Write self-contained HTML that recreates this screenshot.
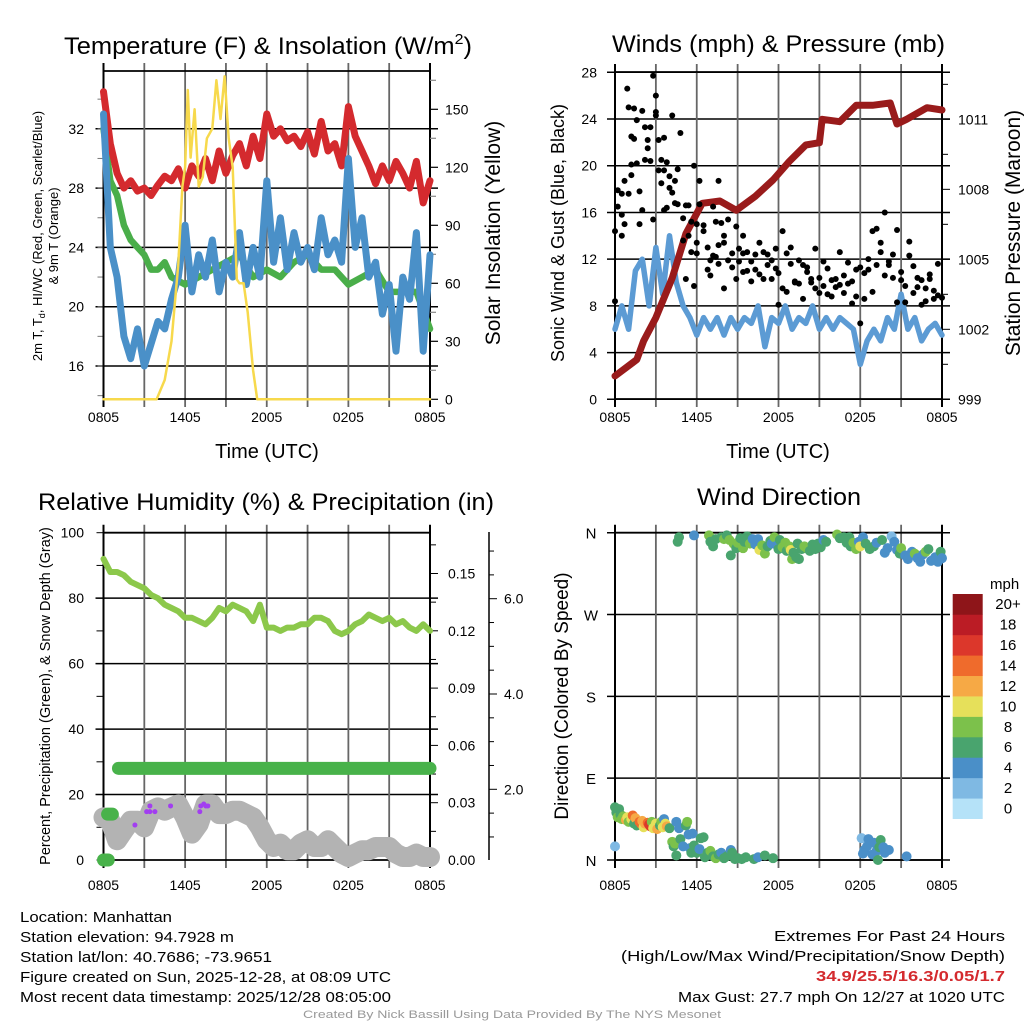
<!DOCTYPE html>
<html><head><meta charset="utf-8"><style>
html,body{margin:0;padding:0;background:#fff}
svg{display:block;font-family:"Liberation Sans",Arial,sans-serif}
</style></head><body>
<svg id="fig" width="1024" height="1024" viewBox="0 0 1024 1024" xmlns="http://www.w3.org/2000/svg">
<rect width="1024" height="1024" fill="#fff"/>
<g id="p1"></g>
<g id="p2"></g>
<g id="p3"></g>
<g id="p4"></g>
<g id="txt">
<text x="64" y="54" font-size="24" textLength="408" lengthAdjust="spacingAndGlyphs">Temperature (F) &amp; Insolation (W/m<tspan font-size="15" dy="-10">2</tspan><tspan dy="10">)</tspan></text>
<text x="612" y="52" font-size="24" textLength="333" lengthAdjust="spacingAndGlyphs">Winds (mph) &amp; Pressure (mb)</text>
<text x="38" y="510" font-size="24" textLength="456" lengthAdjust="spacingAndGlyphs">Relative Humidity (%) &amp; Precipitation (in)</text>
<text x="697" y="505" font-size="24" textLength="164" lengthAdjust="spacingAndGlyphs">Wind Direction</text>
<text x="20" y="922" font-size="15" textLength="152" lengthAdjust="spacingAndGlyphs">Location: Manhattan</text>
<text x="20" y="942" font-size="15" textLength="214" lengthAdjust="spacingAndGlyphs">Station elevation: 94.7928 m</text>
<text x="20" y="962" font-size="15" textLength="252" lengthAdjust="spacingAndGlyphs">Station lat/lon: 40.7686; -73.9651</text>
<text x="20" y="982" font-size="15" textLength="371" lengthAdjust="spacingAndGlyphs">Figure created on Sun, 2025-12-28, at 08:09 UTC</text>
<text x="20" y="1002" font-size="15" textLength="371" lengthAdjust="spacingAndGlyphs">Most recent data timestamp: 2025/12/28 08:05:00</text>
<text x="774" y="941" font-size="15" textLength="231" lengthAdjust="spacingAndGlyphs">Extremes For Past 24 Hours</text>
<text x="621" y="961" font-size="15" textLength="384" lengthAdjust="spacingAndGlyphs">(High/Low/Max Wind/Precipitation/Snow Depth)</text>
<text x="816" y="981" font-size="15" font-weight="bold" fill="#d42a2e" textLength="189" lengthAdjust="spacingAndGlyphs">34.9/25.5/16.3/0.05/1.7</text>
<text x="678" y="1002" font-size="15" textLength="327" lengthAdjust="spacingAndGlyphs">Max Gust: 27.7 mph On 12/27 at 1020 UTC</text>
<text x="303" y="1018" font-size="11" fill="#999" textLength="418" lengthAdjust="spacingAndGlyphs">Created By Nick Bassill Using Data Provided By The NYS Mesonet</text>
</g>
</svg>
<script>
// ---------- DATA ----------
const xTickLabels = ["0805","1405","2005","0205","0805"];
const halfHours = [0,0.5,1,1.5,2,2.5,3,3.5,4,4.5,5,5.5,6,6.5,7,7.5,8,8.5,9,9.5,10,10.5,11,11.5,12,12.5,13,13.5,14,14.5,15,15.5,16,16.5,17,17.5,18,18.5,19,19.5,20,20.5,21,21.5,22,22.5,23,23.5,24];
const tempRed = [34.5,31,29,28,28.5,27.8,28,27.5,28.2,28.8,28.5,29.3,28,29.5,28.8,30,28.5,30.5,29,30.2,31,29.5,31.5,30,33,31.5,32,31.2,31.5,30.8,31.8,30.3,32.5,30.5,31,29.5,33.5,31.5,30.5,29.5,28.3,29.5,28.5,29.8,29,28,29.8,27,28.5];
const tempBlue = [33,24,22,18,16.5,18.5,16,17.5,19,18.5,20.5,22,25.5,21,23.5,22,24.5,21,23,22,25,21.5,24,22,28.5,23,26,22.5,25,23,24,22.5,26,23.5,24.5,23,30,24,26,22,23,19.5,21.5,17,22,20.5,25,17,23.5];
const dewHours = [0,0.5,1,1.5,2,2.5,3,3.5,4,4.5,5,6,7,8,9,10,11,12,13,14,15,16,17,18,19,20,21,22,23,24];
const tempGreen = [32,28.5,27.5,25.5,24.5,24,23.5,22.5,22.5,23,22,21.5,22,22.5,23,23.5,22,22.5,22,23,23.5,22.5,22.5,21.5,22,22.5,21,21,21,18.5];
const solarHours = [0,3.9,4.5,5,5.5,5.8,6,6.2,6.4,6.7,7,7.3,7.6,8,8.3,8.6,8.9,9.2,9.5,9.8,10,10.3,10.6,11,11.3,24];
const solarValues = [0,0,10,30,70,110,120,160,125,150,110,115,135,140,165,145,167,135,120,62,60,60,45,15,0,0];
const yTicksTemp = [16,20,24,28,32];
const yTicksSolar = [0,30,60,90,120,150];

const windSpeed = [6,8,6,11,12,8,13,9,14,10,8,7,5.5,7,6,7,5.5,7,6,7,6.5,8,4.5,7,6.5,8,6,7,6.5,8,6,7,6,7,6.5,6,3,5,6,5,7,6,9,6,7,5,6,6.5,5.5];
const pressHours = [0,1.6,2.1,3.0,4.2,5.2,6.4,7.7,8.9,10.3,11.6,12.8,14.0,15.0,15.2,16.5,17.7,18.9,20.2,20.7,21.4,22.9,24];
const pressValues = [1000,1000.7,1001.5,1002.5,1004.2,1006.1,1007.4,1007.5,1007.1,1007.7,1008.4,1009.2,1009.9,1010,1011,1010.9,1011.6,1011.6,1011.7,1010.8,1011,1011.5,1011.4];
const gustTimes = [0,0,0.2,0.2,0.5,0.5,0.5,0.7,0.7,0.9,1,1,1.2,1.2,1.2,1.4,1.4,1.6,1.6,1.8,1.8,2,2,2.2,2.2,2.4,2.4,2.6,2.6,2.8,2.8,3,3,3,3.2,3.2,3.4,3.4,3.6,3.6,3.6,3.8,3.8,4,4,4.2,4.2,4.4,4.4,4.6,4.6,4.8,5,5,5.2,5.2,5.4,5.4,5.6,5.6,5.8,5.8,6,6,6,6.2,6.2,6.5,6.5,6.8,6.8,7,7,7.2,7.2,7.4,7.4,7.6,7.6,7.6,7.8,8,8,8,8.3,8.3,8.6,8.6,8.9,8.9,9.1,9.1,9.4,9.4,9.4,9.7,9.7,10,10,10.3,10.3,10.6,10.6,10.9,10.9,11.2,11.2,11.5,11.5,11.8,11.8,12,12,12.3,12.3,12.6,12.6,12.9,12.9,13.2,13.2,13.5,13.5,13.8,13.8,14.1,14.1,14.4,14.4,14.7,14.7,15,15,15.3,15.3,15.6,15.6,15.9,15.9,16.2,16.2,16.5,16.5,16.8,16.8,17.1,17.1,17.4,17.4,17.7,17.7,18,18,18.3,18.3,18.6,18.6,18.9,18.9,19.2,19.2,19.5,19.5,19.8,19.8,20.1,20.1,20.4,20.4,20.7,20.7,21,21,21.3,21.3,21.6,21.6,21.9,21.9,22.2,22.2,22.5,22.5,22.8,22.8,23.1,23.1,23.4,23.4,23.7,23.7,24];
const gustValues = [14.4,8.4,16.5,17.9,17.6,15.8,14,15,18.7,26.6,25,17.6,19.2,20.1,22.5,24.9,22.3,20.2,23.9,15,17.8,16.2,24.7,23.3,20.5,21.5,22.2,23.3,20.4,27.7,15.4,26,24.6,24.3,22.2,19.6,20.5,18.5,19.6,22.4,16.2,20.3,16.4,19.1,18.1,24.3,17.7,18.7,16.8,19.7,16.7,22.8,13.6,15.5,10.3,16.6,14,16.6,15.2,12.6,9.7,20,15,12.5,13.4,18.7,16.7,14.4,14.9,13,11.1,10.6,11.9,12.3,16.5,15.2,12.2,11.6,18.7,13.2,15.1,14,13.4,9.5,15.4,11.9,11.3,12.5,14.8,10.3,12.9,11.8,12.5,10.9,14,11,12.6,10.1,11.8,12.4,11.1,13.4,10.7,12.6,10.3,12.4,11.5,10.3,11.9,12.9,11.2,8.1,10.8,14.4,9.5,12.5,9.2,13,11.6,10,10.1,11.9,9.9,8.6,11.5,10.9,11.3,10.3,10,12.9,9.5,10.4,9.1,11.8,9.7,11.2,9,10.2,8.8,10.3,9.6,12.6,9.8,9.1,10.6,11.7,9.9,8.2,10.1,11.1,8.8,6.5,11.3,10.8,8.6,12,11.1,14.4,9.2,14.6,11.5,12.6,13.4,16,10.6,11.8,11.5,10.4,12.4,14.5,8.3,10.9,10.2,9.7,8.3,13.5,12.3,11.4,9.1,10.4,9.6,8.1,10.2,9.5,8.4,10.7,10.3,9.3,8.6,11.6,8.9,8.7];
const yTicksWind = [0,4,8,12,16,20,24,28];
const yTicksPress = [999,1002,1005,1008,1011];

const rhValues = [92,88,88,87,85,84,83,81,80,78,77,76,74,74,73,72,74,77,76,78,77,76,73,78,71,71,70,71,71,72,72,74,74,73,70,69,70,72,73,75,74,73,74,72,73,71,70,72,70];
const snowDepth = [1.41,1.34,0.93,1.14,1.34,1.34,1.2,1.55,1.62,1.55,1.62,1.68,1.41,1.07,1.27,1.68,1.68,1.48,1.48,1.55,1.55,1.48,1.41,1.2,0.93,0.79,0.86,0.72,0.72,0.86,0.93,0.79,0.79,0.93,0.79,0.65,0.58,0.65,0.72,0.72,0.79,0.79,0.79,0.65,0.58,0.58,0.65,0.58,0.58];
const precipStart = [0,0.3,1.1];
const precipEnd = [0.35,0.65,24];
const precipValues = [0,0.024,0.048];
const purpleTimes = [2.31,3.41,3.17,3.41,3.78,4.93,7.08,7.15,7.37,7.52,7.67];
const purpleValues = [0.0183,0.0283,0.0253,0.0253,0.0253,0.0283,0.0253,0.0283,0.0293,0.0283,0.0283];
const yTicksRH = [0,20,40,60,80,100];
const yTicksPrecip = [0,0.03,0.06,0.09,0.12,0.15];
const precipTickLabels = ["0.00","0.03","0.06","0.09","0.12","0.15"];
const yTicksSnow = [2,4,6];

const dirTimes = [0,0.1,0.2,0.3,0.4,0.5,0.6,0.8,0.9,1,1.2,1.3,1.4,1.5,1.6,1.8,1.9,2,2.1,2.2,2.4,2.5,2.6,2.7,2.8,3,3.1,3.3,3.4,3.5,3.6,3.7,3.8,4,4.2,4.3,4.4,4.5,4.5,4.7,4.8,5,5.2,5.3,5.4,5.5,5.6,5.7,5.8,6,6.2,6.3,6.5,6.6,6.8,7,7.2,7.4,7.6,7.8,8,8.2,8.5,8.6,8.8,9,9.3,9.6,10.2,10.5,11,11.6,0,18.1,18.3,18.5,18.2,18.6,18.9,19,19.2,19.4,19.5,19.7,19.8,19.3,20.1,21.4,
4.6,4.7,5.8,6.9,7,7.2,7.4,7.8,8,8.2,8.4,8.5,8.7,8.9,9,9.2,9.4,9.5,9.7,9.9,10.1,10.3,10.5,10.6,10.8,11,11.2,11.4,11.5,11.7,11.9,12,12.1,12.3,12.5,12.6,12.8,12.9,13,13.1,13.3,13.4,13.5,13.7,13.9,14.1,14.3,14.5,14.7,14.9,15.1,15.3,15.5,16.3,16.5,16.8,17,17.2,17.3,17.5,17.7,17.9,18,18.2,18.4,18.7,19,19.2,19.6,19.8,20,20.3,20.5,20.7,20.9,21,21.3,21.5,21.8,22,22.2,22.4,22.6,22.8,23,23.2,23.5,23.7,23.9,24];
const dirValues = [58,52,47,56,50,45,48,44,47,42,45,49,40,46,38,42,40,43,36,40,41,39,37,42,35,40,34,38,42,36,45,40,37,35,20,15,18,5,42,35,23,15,38,42,28,13,8,29,16,8,12,24,25,3,8,10,4,2,6,8,2,4,11,8,1,2,1,3,1,3,5,2,15,24,11,15,7,23,6,19,10,14,22,14,8,0,11,4,
350,355,357,357,350,345,353,355,353,357,352,335,348,343,349,354,343,350,356,348,353,347,353,341,346,337,345,351,348,355,346,342,352,344,349,340,345,341,331,338,333,348,331,342,345,343,340,347,342,348,344,352,350,358,354,355,349,355,345,349,342,350,345,355,348,342,345,349,352,338,343,356,350,341,337,343,335,331,339,337,332,328,336,339,342,329,333,328,339,332];
const dirSpeeds = [6,7,8,6,7,8,9,12,10,8,11,15,7,12,6,14,15,13,10,12,14,16,17,9,10,11,12,7,8,10,4,10,12,6,8,7,8,7,4,5,6,5,6,8,4,4,6,4,6,6,5,6,6,7,6,8,7,8,6,4,7,6,4,6,6,7,6,6,6,4,6,6,3,2,4,4,4,4,4,4,4,6,6,4,4,6,4,4,
6,6,4,8,6,6,7,6,8,6,8,6,8,7,8,6,8,6,6,8,4,4,4,10,8,8,6,6,4,8,4,6,6,8,8,6,8,10,8,6,6,6,6,6,8,8,6,6,6,6,6,4,6,8,6,6,6,6,6,8,8,4,10,4,6,6,6,4,6,4,4,3,4,4,6,8,4,4,4,8,4,4,4,8,6,4,4,4,6,4];
const dirTicks = [0,90,180,270,360];
const dirTickLabels = ["N","E","S","W","N"];
const speedBins = ["0","2","4","6","8","10","12","14","16","18","20+"];
const speedColors = ["#b5e2f8","#7fb9e3","#4a8fc8","#49a46e","#7cc14b","#e6e05a","#f6a945","#ef6b2c","#dc372b","#bb1c25","#8e1519"];

// ---------- HELPERS ----------
const NS="http://www.w3.org/2000/svg";
function mk(parent,tag,attrs){const e=document.createElementNS(NS,tag);for(const k in attrs)e.setAttribute(k,attrs[k]);parent.appendChild(e);return e;}
function txt(parent,x,y,s,size,anchor,extra){const t=mk(parent,"text",Object.assign({x:x,y:y,"font-size":size,"text-anchor":anchor||"start"},extra||{}));t.textContent=s;return t;}

function frame(g,L,R,T,B){
  for(let i=0;i<=8;i++){const x=L+(R-L)*i/8;
    const ln=mk(g,"line",{x1:x,y1:T-8,x2:x,y2:B+8,stroke:(i===0||i===8)?"#000":"#666","stroke-width":(i===0||i===8)?2:1.8});
    
    
  }
  mk(g,"line",{x1:L,y1:T,x2:R,y2:T,stroke:"#000","stroke-width":1.8});
  mk(g,"line",{x1:L,y1:B,x2:R,y2:B,stroke:"#000","stroke-width":1.8});
}
function xLabels(g,L,R,y){
  xTickLabels.forEach((s,i)=>{const t=txt(g,L+(R-L)*i/4,y,s,14,"middle");
    
    });
}
function hgrid(g,L,R,y,color){mk(g,"line",{x1:L-8,y1:y,x2:R+8,y2:y,stroke:color||"#000","stroke-width":1.5});}
function poly(g,pts,color,w,name){const p=mk(g,"polyline",{points:pts.map(a=>a[0].toFixed(1)+","+a[1].toFixed(1)).join(" "),fill:"none",stroke:color,"stroke-width":w,"stroke-linejoin":"round","stroke-linecap":"round"});
  
  
  return p;}

// ---------- PANEL 1 ----------
(function(){
  const g=document.getElementById("p1");
  const L=103.5,R=430,T=71,B=399;
  const xs=t=>L+(R-L)*t/24;
  const yT=v=>366-(v-16)*59.3/4;
  const yS=v=>399.3-v*58/30;
  yTicksTemp.forEach(v=>{hgrid(g,L,R,yT(v));const t=txt(g,84,yT(v)+5,String(v),14,"end");
    
    });
  for(let v=14;v<=35;v+=2){mk(g,"line",{x1:L-6,y1:yT(v),x2:L,y2:yT(v),stroke:"#777","stroke-width":1});}
  frame(g,L,R,T,B);
  for(let v=0;v<=165;v+=15){mk(g,"line",{x1:R,y1:yS(v),x2:R+(v%30===0?8:6),y2:yS(v),stroke:v%30===0?"#000":"#888","stroke-width":1.2});}
  yTicksSolar.forEach(v=>{const t=txt(g,445,yS(v)+5,String(v),14,"start");
    
    });
  xLabels(g,L,R,422);
  poly(g,dewHours.map((h,i)=>[xs(h),yT(tempGreen[i])]),"#4aae4a",6.5,"dewpoint-line");
  poly(g,halfHours.map((h,i)=>[xs(h),yT(tempRed[i])]),"#d42a2e",7,"temperature-line");
  poly(g,halfHours.map((h,i)=>[xs(h),yT(tempBlue[i])]),"#4a90c8",7,"windchill-line");
  poly(g,solarHours.map((h,i)=>[xs(h),yS(solarValues[i])]),"#f7d94c",2.5,"insolation-line");
  let t=txt(g,267,458,"Time (UTC)",20,"middle");
  t=txt(g,0,0,"2m T, T",13,"middle",{transform:"translate(42,236) rotate(-90)"});
  t.innerHTML='2m T, T<tspan font-size="9" dy="3">d</tspan><tspan dy="-3">, HI/WC (Red, Green, Scarlet/Blue)</tspan>';
  
  t=txt(g,0,0,"& 9m T (Orange)",13,"middle",{transform:"translate(58,236) rotate(-90)"});
  
  t=txt(g,0,0,"Solar Insolation (Yellow)",21,"middle",{transform:"translate(500,233) rotate(-90)"});
  
})();

// ---------- PANEL 2 ----------
(function(){
  const g=document.getElementById("p2");
  const L=615,R=942,T=72,B=399;
  const xs=t=>L+(R-L)*t/24;
  const yW=v=>399.3-v*(327/28);
  const yP=v=>399.3-(v-999)*23.33;
  yTicksWind.forEach(v=>{hgrid(g,L,R,yW(v));const t=txt(g,597,yW(v)+5,String(v),14,"end");
    
    });
  frame(g,L,R,T,B);
  for(let v=999;v<=1013;v+=1.5){mk(g,"line",{x1:R,y1:yP(v),x2:R+(Math.abs((v-999)%3)<0.01?8:6),y2:yP(v),stroke:"#000","stroke-width":1});}
  yTicksPress.forEach(v=>{const t=txt(g,958,yP(v)+5,String(v),14,"start");
    
    });
  xLabels(g,L,R,422);
  poly(g,halfHours.map((h,i)=>[xs(h),yW(windSpeed[i])]),"#5c9bd4",5.5,"wind-speed-line");
  poly(g,pressHours.map((h,i)=>[xs(h),yP(pressValues[i])]),"#991b1b",7,"pressure-line");
  gustTimes.forEach((h,i)=>{const c=mk(g,"circle",{cx:xs(h),cy:yW(gustValues[i]),r:3,fill:"#000"});
    
    });
  let t=txt(g,778,458,"Time (UTC)",20,"middle");
  t=txt(g,0,0,"Sonic Wind & Gust (Blue, Black)",18,"middle",{transform:"translate(564,233) rotate(-90)"});
  
  t=txt(g,0,0,"Station Pressure (Maroon)",21,"middle",{transform:"translate(1020,233) rotate(-90)"});
  
})();

// ---------- PANEL 3 ----------
(function(){
  const g=document.getElementById("p3");
  const L=103.5,R=430,T=532.7,B=860;
  const xs=t=>L+(R-L)*t/24;
  const yRH=v=>860-v*3.273;
  const yPr=v=>860-v*1910;
  const ySn=v=>884.6-v*47.65;
  yTicksRH.forEach(v=>{if(v>0&&v<100)hgrid(g,L,R,yRH(v));const t=txt(g,84,yRH(v)+5,String(v),14,"end");
    
    });
  for(let v=0;v<=100;v+=10){mk(g,"line",{x1:L-7,y1:yRH(v),x2:L,y2:yRH(v),stroke:"#000","stroke-width":1});}
  frame(g,L,R,T,B);
  for(let v=0;v<=0.17;v+=0.015){mk(g,"line",{x1:R,y1:yPr(v),x2:R+(Math.round(v*1000)%30===0?8:6),y2:yPr(v),stroke:"#000","stroke-width":1});}
  yTicksPrecip.forEach((v,i)=>{const t=txt(g,448,yPr(v)+5,precipTickLabels[i],14,"start");
    
    });
  mk(g,"line",{x1:489,y1:532,x2:489,y2:860,stroke:"#000","stroke-width":1.5});
  for(let v=0.5;v<=7;v+=0.5){const y=ySn(v);if(y<532||y>860)continue;mk(g,"line",{x1:489,y1:y,x2:489+(v%2===0?8:5),y2:y,stroke:"#000","stroke-width":1});}
  yTicksSnow.forEach(v=>{const t=txt(g,504,ySn(v)+5,v.toFixed(1),14,"start");
    
    });
  xLabels(g,L,R,890);
  poly(g,halfHours.map((h,i)=>[xs(h),ySn(snowDepth[i])]),"#b3b3b3",20,"snow-depth-line");
  poly(g,halfHours.map((h,i)=>[xs(h),yRH(rhValues[i])]),"#8cc84b",6,"humidity-line");
  precipValues.forEach((v,i)=>{const l=mk(g,"line",{x1:xs(precipStart[i]),y1:yPr(v),x2:xs(precipEnd[i]),y2:yPr(v),stroke:"#48b24a","stroke-width":13,"stroke-linecap":"round"});
    
    });
  purpleTimes.forEach((h,i)=>{const c=mk(g,"circle",{cx:xs(h),cy:yPr(purpleValues[i]),r:2.5,fill:"#a23ef0"});
    
    });
  const t=txt(g,0,0,"Percent, Precipitation (Green), & Snow Depth (Gray)",14.5,"middle",{transform:"translate(50,696) rotate(-90)"});
  
})();

// ---------- PANEL 4 ----------
(function(){
  const g=document.getElementById("p4");
  const L=615,R=942,T=532.7,B=860;
  const xs=t=>L+(R-L)*t/24;
  const yD=d=>860-d/360*327.3;
  dirTicks.forEach((d,i)=>{hgrid(g,L,R,yD(d));const t=txt(g,591,yD(d)+6,dirTickLabels[i],15,"middle");
    
    });
  frame(g,L,R,T,B);
  xLabels(g,L,R,890);
  dirTimes.forEach((h,i)=>{const b=Math.min(10,Math.floor(dirSpeeds[i]/2));
    const c=mk(g,"circle",{cx:xs(h),cy:yD(dirValues[i]),r:5,fill:speedColors[b]});
    
    });
  let t=txt(g,0,0,"Direction (Colored By Speed)",19,"middle",{transform:"translate(568,696) rotate(-90)"});
  
  t=txt(g,990,589,"mph",15,"start");
  const cbT=594,cbB=818.7,h=(cbB-cbT)/11;
  speedBins.forEach((s,i)=>{const y=cbB-(i+1)*h;
    const r=mk(g,"rect",{x:952.7,y:y,width:30,height:h+0.3,fill:speedColors[i]});
    
    
    const tl=txt(g,1008,y+h/2+5,s,15,"middle");
    
    });
})();
</script>
</body></html>
